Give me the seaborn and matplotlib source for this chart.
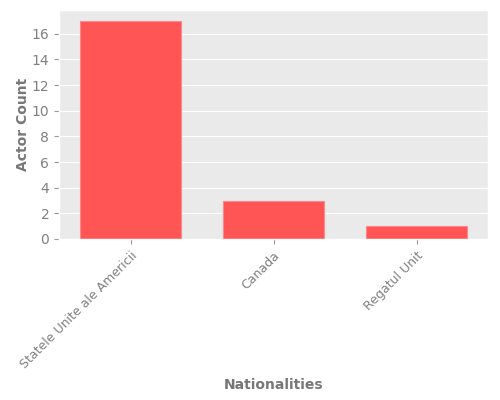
import matplotlib
matplotlib.use("Agg")
import matplotlib.pyplot as plt
from matplotlib.ticker import MultipleLocator
import pandas as pd
import seaborn as sns

# data
nationalities = ["Statele Unite ale Americii", "Canada", "Regatul Unit"]
actor_counts = [17, 3, 1]

df = pd.DataFrame({"nationality": nationalities, "count": actor_counts})

plt.style.use("ggplot")
fig, ax = plt.subplots(figsize=(5, 4), dpi=100)
ax.set_facecolor("#EAEAEA")

sns.barplot(data=df, x="nationality", y="count", color="#FF5555",
            saturation=1, width=0.7, edgecolor="#FF8888", linewidth=0.8, ax=ax)

ax.set_ylim(0, 17 * 1.05)
ax.set_xlim(-0.5, 2.5)
ax.yaxis.set_major_locator(MultipleLocator(2))
ax.grid(axis="x", visible=False)
ax.set_xlabel("Nationalities", fontsize=10, fontweight="bold", color="#777777", labelpad=5)
ax.set_ylabel("Actor Count", fontsize=10, fontweight="bold", color="#777777", labelpad=1)
ax.tick_params(axis="y", labelsize=10, colors="#999999", labelcolor="#808080")
ax.tick_params(axis="x", labelsize=9, colors="#999999", labelcolor="#808080")
plt.setp(ax.get_xticklabels(), rotation=45, ha="right", rotation_mode="anchor")

fig.subplots_adjust(left=0.118, right=0.976, top=0.975, bottom=0.4025)
fig.savefig("out.png", dpi=100)
